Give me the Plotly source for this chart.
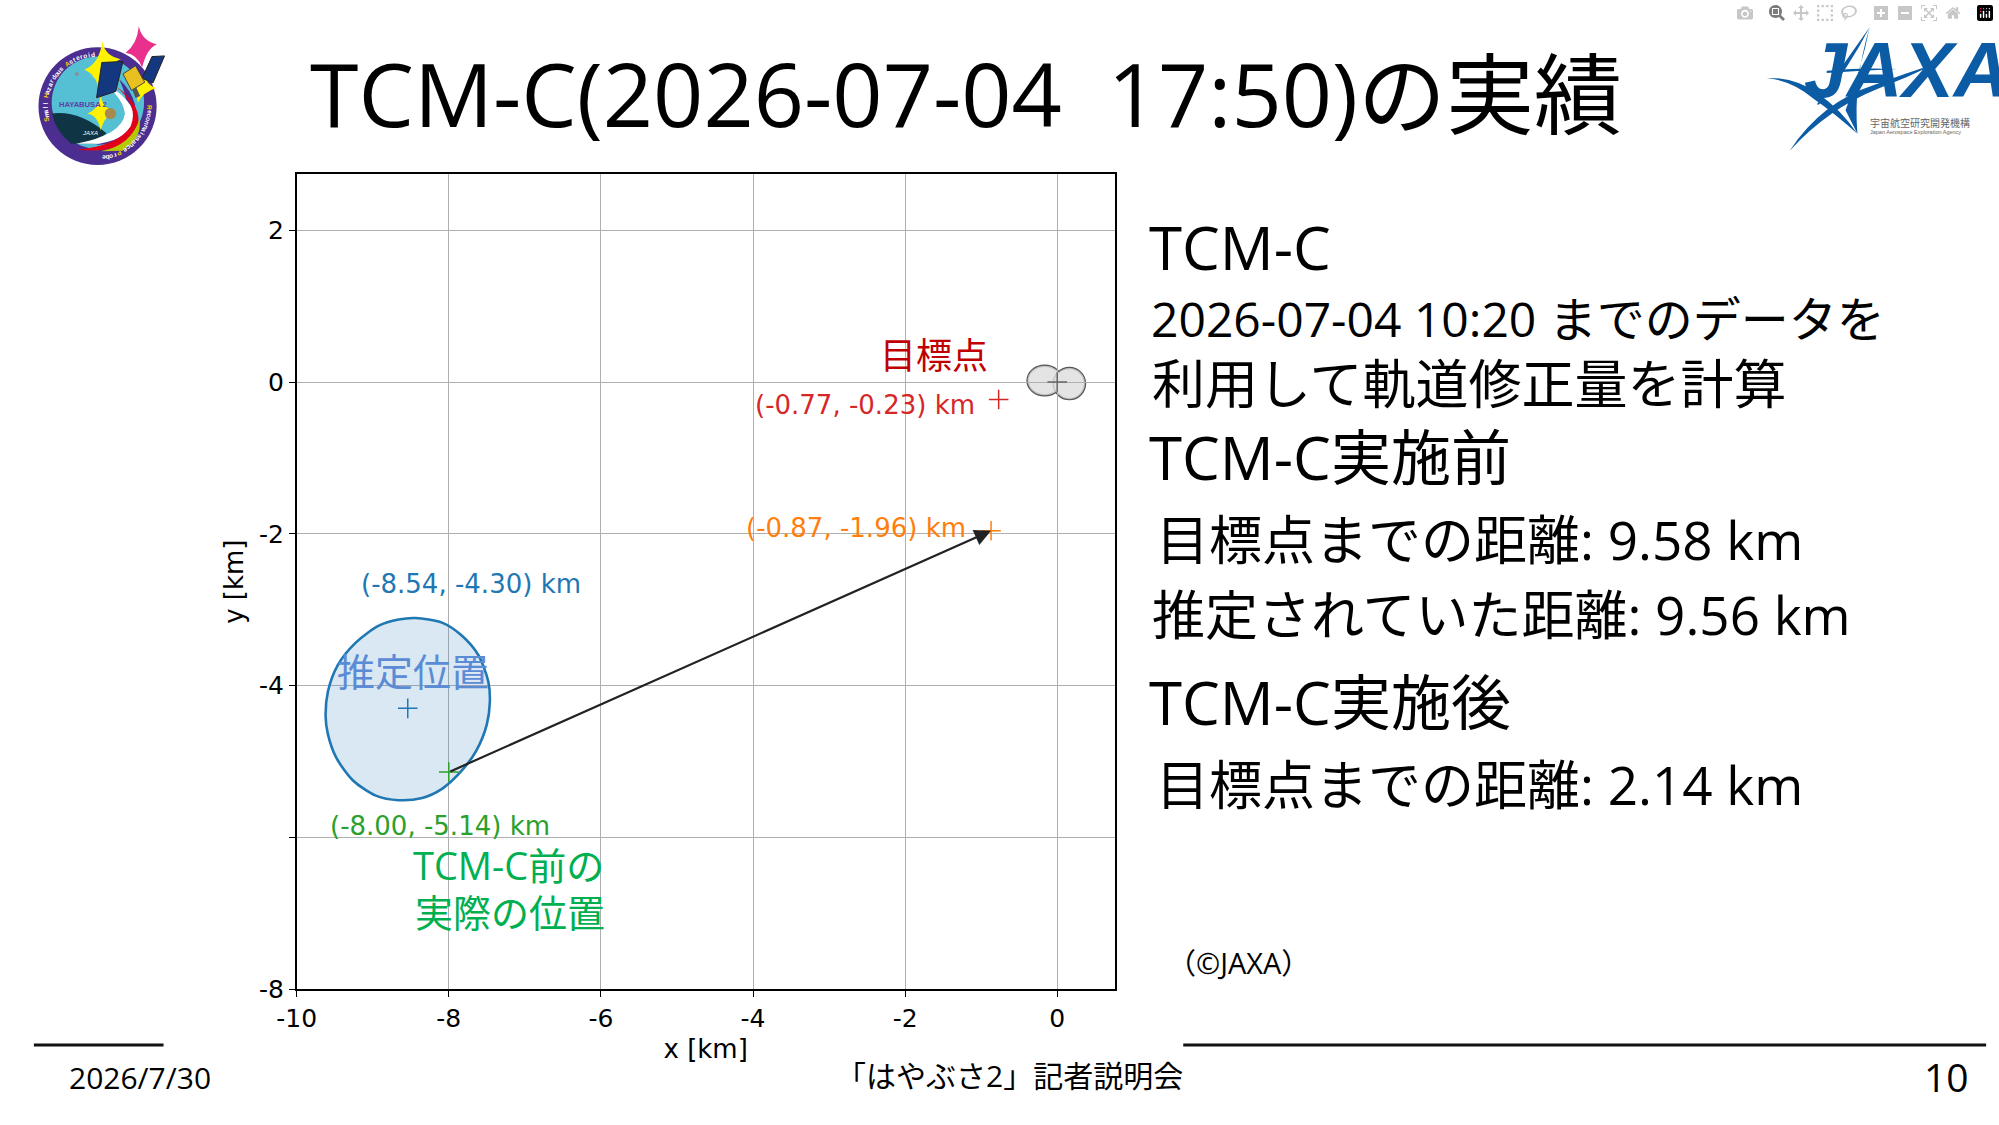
import math
import re
import plotly.graph_objects as go

W, H = 1999, 1125

# --- chart values
x_ticks = [-10, -8, -6, -4, -2, 0]
y_ticks = [-8, -6, -4, -2, 0, 2]
x_tick_labels = ["-10", "-8", "-6", "-4", "-2", "0"]
y_tick_labels = ["-8", "", "-4", "-2", "0", "2"]  # the -6 label is not shown in the slide

point_x = [-8.54, -8.00, -0.87, -0.77, 0.0]
point_y = [-4.30, -5.14, -1.96, -0.23, 0.0]
point_colors = ["#1f77b4", "#2ca02c", "#ff7f0e", "#d62728", "#666666"]

arrow_tail = [-8.00, -5.14]
arrow_tip = [-0.87, -1.96]

ellipse_x = [-8.44, -8.09, -7.83, -7.61, -7.48, -7.46, -7.50, -7.64, -7.83, -8.09, -8.35,
             -8.66, -8.96, -9.26, -9.48, -9.59, -9.62, -9.59, -9.46, -9.22, -8.92, -8.66, -8.44]
ellipse_y = [-3.11, -3.17, -3.34, -3.60, -3.95, -4.21, -4.51, -4.86, -5.12, -5.36, -5.48,
             -5.51, -5.45, -5.25, -4.95, -4.64, -4.40, -4.08, -3.73, -3.43, -3.21, -3.13, -3.11]

# two lobes of the asteroid: centre x, centre y, half width, half height
lobes = [(-0.165, 0.02, 0.225, 0.195), (0.16, -0.02, 0.205, 0.205)]

# --- slide texts: text, left x, centre y, size, colour, family
SANS = "Open Sans, Noto Sans CJK JP"
DEJA = "DejaVu Sans"
slide_texts = [
    ("TCM-C(2026-07-04  17:50)の実績", 292, 94, 88, "#000000", SANS),
    ("TCM-C", 1139, 250, 60, "#000000", SANS),
    ("2026-07-04 10:20 までのデータを", 1141, 323, 48, "#000000", SANS),
    ("利用して軌道修正量を計算", 1142, 389, 53, "#000000", SANS),
    ("TCM-C実施前", 1139, 463, 60, "#000000", SANS),
    ("目標点までの距離: 9.58 km", 1146, 547, 53, "#000000", SANS),
    ("推定されていた距離: 9.56 km", 1142, 623, 53, "#000000", SANS),
    ("TCM-C実施後", 1139, 711, 60, "#000000", SANS),
    ("目標点までの距離: 2.14 km", 1146, 795, 53, "#000000", SANS),
    ("（©JAXA）", 1158, 975, 29, "#000000", SANS),
    ("2026/7/30", 48, 1092, 30, "#000000", SANS),
    ("「はやぶさ2」記者説明会", 823, 1090, 30, "#000000", SANS),
    ("10", 1922, 1091, 39, "#000000", SANS),
    ("目標点", 868, 360, 36, "#c00000", SANS),
    ("推定位置", 319, 680, 38, "#5b8bd5", SANS),
    ("TCM-C前の", 396, 877, 38, "#00b050", SANS),
    ("実際の位置", 398, 924, 38, "#00b050", SANS),
    ("(-0.77, -0.23) km", 741, 410, 26, "#d62728", DEJA),
    ("(-0.87, -1.96) km", 732, 535, 26, "#ff7f0e", DEJA),
    ("(-8.54, -4.30) km", 343, 592, 26, "#1f77b4", DEJA),
    ("(-8.00, -5.14) km", 312, 837, 26, "#2ca02c", DEJA),
]


def px(x):
    return x / W


def py(y):
    return 1 - y / H


def zoom_path(path, ox, oy):
    # logo outlines were traced on 3x crops, bring them back to slide pixels
    toks = path.split()
    out, is_x = [], True
    for t in toks:
        if re.match(r"^-?[\d.]+$", t):
            if is_x:
                out.append(f"{px(ox + float(t) / 3):.5f}")
            else:
                out.append(f"{py(oy + float(t) / 3):.5f}")
            is_x = not is_x
        else:
            out.append(t)
    return " ".join(out)


fig = go.Figure()

# estimated position ellipse
fig.add_trace(go.Scatter(x=ellipse_x, y=ellipse_y, mode="lines", fill="toself",
                         fillcolor="rgba(31,119,180,0.17)",
                         line=dict(color="#1f77b4", width=2.6, shape="spline", smoothing=0.8),
                         hoverinfo="skip", showlegend=False))

# plus markers
fig.add_trace(go.Scatter(x=point_x, y=point_y, mode="markers",
                         marker=dict(symbol="cross-thin", size=14, color=point_colors,
                                     line=dict(color=point_colors, width=1.5)),
                         showlegend=False))

shapes = []

# asteroid: outline first, then the fill over it so the neck stays open
for cx, cy, rx, ry in lobes:
    shapes.append(dict(type="circle", xref="x", yref="y", layer="below",
                       x0=cx - rx, x1=cx + rx, y0=cy - ry, y1=cy + ry,
                       line=dict(color="#555555", width=2.4), fillcolor="#e4e4e4"))
for cx, cy, rx, ry in lobes:
    shapes.append(dict(type="circle", xref="x", yref="y", layer="below",
                       x0=cx - rx, x1=cx + rx, y0=cy - ry, y1=cy + ry,
                       line=dict(width=0), fillcolor="rgba(228,228,228,0.75)"))

# footer rules
for x0, x1 in [(14, 145), (1175, 1986)]:
    shapes.append(dict(type="line", xref="paper", yref="paper", x0=px(x0), x1=px(x1),
                       y0=py(1059), y1=py(1059), line=dict(color="#111111", width=3)))


def logo_circle(cx, cy, r, color, ox=0, oy=0, line=None):
    shapes.append(dict(type="circle", xref="paper", yref="paper",
                       x0=px(ox + (cx - r) / 3), x1=px(ox + (cx + r) / 3),
                       y0=py(oy + (cy - r) / 3), y1=py(oy + (cy + r) / 3),
                       fillcolor=color, line=dict(width=0) if line is None else line))


def logo_path(path, color, ox=0, oy=0, line=None):
    shapes.append(dict(type="path", xref="paper", yref="paper", path=zoom_path(path, ox, oy),
                       fillcolor=color, line=dict(width=0) if line is None else line))


# --- mission patch (top left)
logo_circle(235, 323, 179, "#4b2e8f")
logo_circle(236, 312, 140, "#55c0d4")
logo_path("M 97 345 Q 180 335 262 405 L 225 437 L 155 437 Q 108 400 97 345 Z", "#0f3545")
logo_path("M 300 240 Q 375 310 340 400 Q 310 440 230 440 Q 320 410 325 340 Q 325 290 300 240 Z", "#4b2e8f")
logo_path("M 205 225 Q 310 280 318 345 Q 310 410 170 437 L 240 437 Q 345 420 345 350 Q 340 290 205 225 Z", "#ffffff")
logo_path("M 172 455 Q 295 445 335 385 Q 362 320 290 262 Q 375 320 356 392 Q 320 470 172 455 Z", "#e2001a")
logo_path("M 245 460 Q 340 440 362 360 Q 372 420 310 458 Z", "#b5c800")
logo_path("M 250 125 Q 255 170 305 180 Q 262 195 258 225 Q 250 280 240 295 Q 240 230 195 212 Q 240 195 250 125 Z", "#fff200")
logo_path("M 245 290 Q 250 330 292 340 Q 255 350 245 397 Q 235 350 205 345 Q 240 330 245 290 Z", "#fff200")
logo_path("M 380 228 Q 380 255 412 268 Q 375 278 357 312 Q 355 280 335 265 Q 365 260 380 228 Z", "#fff200")
logo_path("M 360 80 Q 370 125 415 135 Q 385 145 370 205 Q 355 165 320 160 Q 355 135 360 80 Z", "#e8308c")
panel_line = dict(color="#222222", width=1)
logo_path("M 248 190 L 312 187 L 290 278 L 232 297 Z", "#14387f", line=panel_line)
logo_path("M 400 172 L 438 170 L 403 252 L 370 238 Z", "#14387f", line=panel_line)
logo_path("M 312 225 L 350 200 L 378 250 L 338 275 Z", "#e8c020", line=dict(color="#444444", width=1))
logo_path("M 340 272 L 352 265 L 364 292 L 350 298 Z", "#555555")
logo_circle(274, 345, 17, "#a8894e")
logo_circle(172, 225, 6, "#8a8f98")

# --- JAXA logo (top right)
JX, JY = 1700, 0
for p in [
    "M 505 83 Q 480 210 432 335 L 468 407 Q 455 250 505 83 Z",
    "M 193 237 Q 280 235 350 285 Q 420 335 468 407 Q 400 345 335 300 Q 270 245 193 237 Z",
    "M 263 458 Q 360 310 520 258 Q 620 220 702 195 Q 620 235 530 270 Q 380 330 263 458 Z",
    "M 345 318 Q 420 200 505 83 Q 440 210 352 318 Z",
    "M 375 215 Q 480 205 590 210 Q 480 215 375 222 Z",
]:
    logo_path(p, "#0b5ca5", JX, JY)

annotations = []


def add_text(text, x, y, size, color, family, xanchor="left", angle=0, bold=False):
    if bold:
        text = f"<b>{text}</b>"
    annotations.append(dict(text=text, xref="paper", yref="paper", x=px(x), y=py(y),
                            xanchor=xanchor, yanchor="middle", showarrow=False, borderpad=0,
                            textangle=angle, font=dict(size=size, color=color, family=family)))


for text, x, y, size, color, family in slide_texts:
    add_text(text, x, y, size, color, family)

# patch and logo lettering
add_text("HAYABUSA 2", 38, 106, 7.6, "#5b3fa8", "Liberation Sans", bold=True)
add_text("<i>JAXA</i>", 62, 135, 6, "#ffffff", "Liberation Sans")
add_text("<i>JAXA</i>", 1801, 71, 77, "#0b5ca5", "Liberation Sans", bold=True)
add_text("宇宙航空研究開発機構", 1868, 124, 10, "#666666", "Noto Sans CJK JP")
add_text("Japan Aerospace Exploration Agency", 1868, 134, 5.5, "#666666", "Liberation Sans")


def ring_text(text, start, end, color="#ffffff"):
    # letters around the patch ring, tops pointing outwards
    n = len(text)
    for i, ch in enumerate(text):
        if ch == " ":
            continue
        a = start + (end - start) * i / (n - 1)
        r = math.radians(a)
        c = "#f5d000" if ch.isupper() else color
        add_text(ch, 78.3 + 53 * math.sin(r), 107.7 - 53 * math.cos(r), 6.5, c,
                 "Liberation Sans", xanchor="center", angle=a, bold=True)


ring_text("Small Hazardous Asteroid", -104, -5)
ring_text("Reconnaissance Probe", 92, 173)

# thrust arrow
annotations.append(dict(x=arrow_tip[0], y=arrow_tip[1], ax=arrow_tail[0], ay=arrow_tail[1],
                        xref="x", yref="y", axref="x", ayref="y", text="", showarrow=True,
                        arrowhead=2, arrowsize=1.5, arrowwidth=2.2, arrowcolor="#222222"))

fig.update_layout(
    width=W, height=H, autosize=False,
    margin=dict(l=0, r=0, t=0, b=0, pad=0),
    paper_bgcolor="#ffffff", plot_bgcolor="#ffffff",
    shapes=shapes, annotations=annotations,
    font=dict(family=DEJA, color="#000000"),
)

axis_style = dict(showline=True, mirror=True, linecolor="#000000", linewidth=1.6,
                  showgrid=True, gridcolor="#b0b0b0", gridwidth=1.3, zeroline=False,
                  ticks="outside", ticklen=6, tickwidth=1.4, tickcolor="#000000",
                  tickfont=dict(size=25, family=DEJA, color="#000000"))

fig.update_xaxes(range=[-10, 0.755], domain=[279.5 / W, 1105.7 / W], tickmode="array",
                 tickvals=x_ticks, ticktext=x_tick_labels,
                 title=dict(text="x [km]", font=dict(size=26, family=DEJA), standoff=8),
                 **axis_style)
fig.update_yaxes(range=[-8, 2.74], domain=[1 - 1002.5 / H, 1 - 176.5 / H], tickmode="array",
                 tickvals=y_ticks, ticktext=y_tick_labels,
                 title=dict(text="y [km]", font=dict(size=26, family=DEJA), standoff=8),
                 **axis_style)

fig.write_html("out.html", post_script="document.body.style.margin='0';document.body.style.overflow='hidden';")
